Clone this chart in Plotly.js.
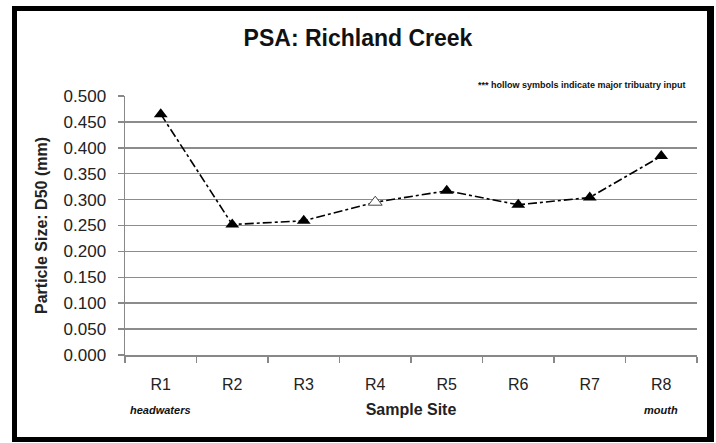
<!DOCTYPE html>
<html>
<head>
<meta charset="utf-8">
<script src="https://cdn.plot.ly/plotly-3.0.1.min.js"></script>
<style>
  html, body { margin: 0; padding: 0; background: #fff; }
  #wrap { position: relative; width: 716px; height: 443px; }
  #chart { position: absolute; left: 0; top: 0; width: 716px; height: 443px; }
  #frame { position: absolute; left: 12px; top: 6px; width: 690px; height: 426px;
           border-left: 5px solid #000; border-top: 5px solid #000;
           border-right: 7px solid #000; border-bottom: 5px solid #000; pointer-events: none; }
</style>
</head>
<body>
<div id="wrap">
  <div id="chart"></div>
  <div id="frame"></div>
</div>
<script>
const sites = ["R1", "R2", "R3", "R4", "R5", "R6", "R7", "R8"];
const d50 = [0.465, 0.252, 0.259, 0.295, 0.317, 0.290, 0.304, 0.384];
const hollow = [false, false, false, true, false, false, false, false];
const yTicks = [0, 0.05, 0.1, 0.15, 0.2, 0.25, 0.3, 0.35, 0.4, 0.45, 0.5];
const yTickText = yTicks.map(v => v.toFixed(3));

const font = "'Liberation Sans', Arial, sans-serif";
const narrow = "'Liberation Sans Narrow', 'Liberation Sans', Arial, sans-serif";

const trace = {
  x: sites,
  y: d50,
  type: "scatter",
  mode: "lines+markers",
  line: { color: "#000", width: 1.6, dash: "dashdot" },
  marker: {
    symbol: "triangle-up",
    size: 12,
    color: hollow.map(h => h ? "#fff" : "#000"),
    line: { color: hollow.map(h => h ? "#444" : "#000"), width: hollow.map(h => h ? 1 : 0) }
  },
  hoverinfo: "x+y"
};

const layout = {
  width: 716, height: 443,
  margin: { l: 125, r: 19, t: 96, b: 88 },
  paper_bgcolor: "#fff", plot_bgcolor: "#fff",
  showlegend: false,
  font: { family: font, color: "#222" },
  title: { text: "<b>PSA: Richland Creek</b>", x: 0.5, xanchor: "center", y: 0.915, yanchor: "middle",
           font: { family: font, size: 23, color: "#111" } },
  xaxis: {
    type: "category",
    tickson: "boundaries",
    ticks: "outside", ticklen: 6, tickcolor: "#888", tickwidth: 1.5,
    ticklabelstandoff: 14,
    showline: true, linecolor: "#888", linewidth: 1.5,
    showgrid: false, zeroline: false,
    tickfont: { family: font, size: 16, color: "#222" },
    title: { text: "<b>Sample Site</b>", font: { family: font, size: 16, color: "#222" }, standoff: 12 },
    range: [-0.5, 7.5]
  },
  yaxis: {
    range: [0, 0.5],
    tickvals: yTicks, ticktext: yTickText,
    ticks: "outside", ticklen: 6, tickcolor: "#888", tickwidth: 1.5,
    ticklabelstandoff: 8,
    showline: true, linecolor: "#888", linewidth: 1.5,
    showgrid: true, gridcolor: "#8c8c8c", gridwidth: 1.5,
    zeroline: false,
    tickfont: { family: font, size: 17, color: "#222" },
    title: { text: "<b>Particle Size: D50 (mm)</b>", font: { family: font, size: 16, color: "#222" }, standoff: 12 }
  },
  annotations: [
    { text: "<b>*** hollow symbols indicate major tribuatry input</b>", xref: "paper", yref: "paper",
      x: 0.985, y: 1.015, xanchor: "right", yanchor: "bottom", showarrow: false,
      font: { family: narrow, size: 9, color: "#111" } },
    { text: "<b><i>headwaters</i></b>", xref: "paper", yref: "paper",
      x: 0.0625, y: -0.213, xanchor: "center", yanchor: "middle", showarrow: false,
      font: { family: narrow, size: 11, color: "#111" } },
    { text: "<b><i>mouth</i></b>", xref: "paper", yref: "paper",
      x: 0.9375, y: -0.213, xanchor: "center", yanchor: "middle", showarrow: false,
      font: { family: narrow, size: 11, color: "#111" } }
  ]
};

Plotly.newPlot("chart", [trace], layout, { displayModeBar: false, staticPlot: true });
</script>
</body>
</html>
